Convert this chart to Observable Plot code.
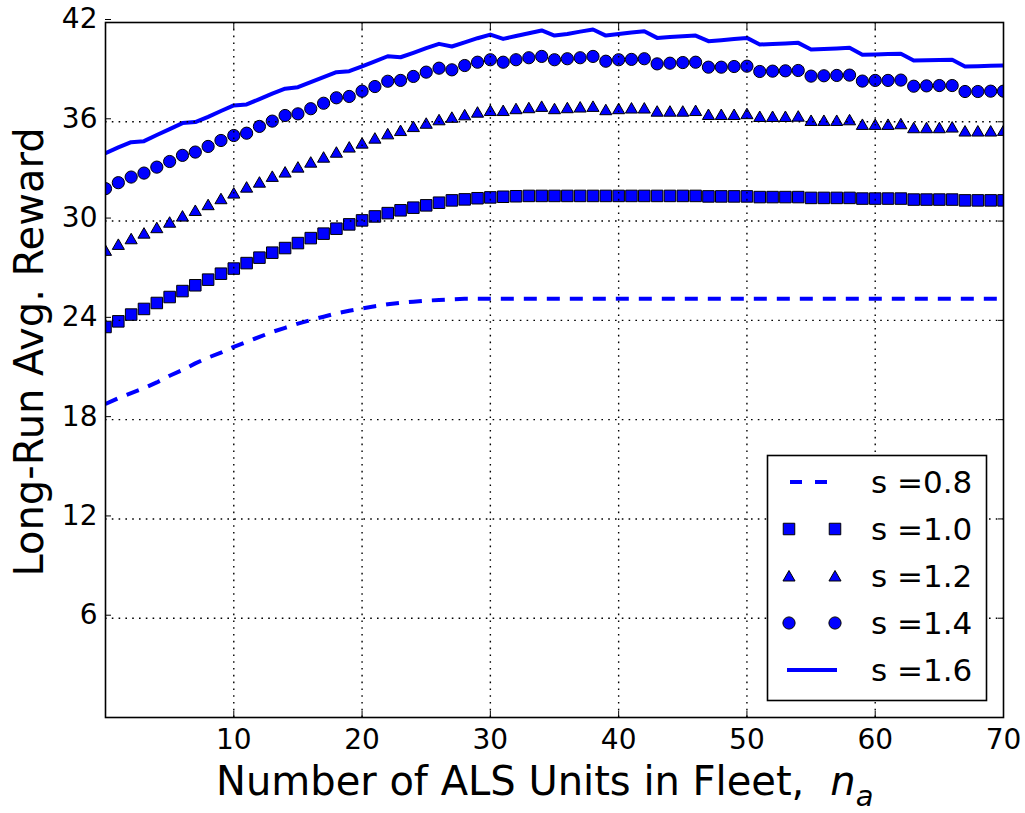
<!DOCTYPE html>
<html>
<head>
<meta charset="utf-8">
<script src="https://cdn.jsdelivr.net/npm/d3@7"></script>
<script src="https://cdn.jsdelivr.net/npm/@observablehq/plot@0.6"></script>
<style>
  body { margin: 0; background: #fff; }
  #wrap { position: relative; width: 1025px; height: 813px; }
</style>
</head>
<body>
<div id="wrap"></div>
<script>
// ---- data ----
const nA = [0,1,2,3,4,5,6,7,8,9,10,11,12,13,14,15,16,17,18,19,20,21,22,23,24,25,26,27,28,29,30,31,32,33,34,35,36,37,38,39,40,41,42,43,44,45,46,47,48,49,50,51,52,53,54,55,56,57,58,59,60,61,62,63,64,65,66,67,68,69,70];

const s08 = [18.95,19.3,19.6,19.9,20.25,20.65,21.0,21.4,21.75,22.05,22.4,22.7,23.0,23.3,23.55,23.8,24.02,24.22,24.42,24.58,24.72,24.85,24.97,25.06,25.13,25.19,25.23,25.27,25.3,25.3,25.3,25.3,25.3,25.3,25.3,25.3,25.3,25.3,25.3,25.3,25.3,25.3,25.3,25.3,25.3,25.3,25.3,25.3,25.3,25.3,25.3,25.3,25.3,25.3,25.3,25.3,25.3,25.3,25.3,25.3,25.3,25.3,25.3,25.3,25.3,25.3,25.3,25.3,25.3,25.3,25.3];

const s10 = [23.6,23.94,24.35,24.69,25.05,25.41,25.77,26.12,26.46,26.82,27.13,27.46,27.79,28.09,28.37,28.67,28.97,29.24,29.54,29.8,30.04,30.28,30.48,30.65,30.81,30.95,31.11,31.25,31.31,31.38,31.43,31.47,31.5,31.52,31.52,31.52,31.52,31.52,31.52,31.52,31.52,31.52,31.52,31.52,31.52,31.52,31.52,31.49,31.49,31.49,31.49,31.45,31.45,31.45,31.45,31.4,31.4,31.4,31.4,31.36,31.36,31.36,31.36,31.3,31.3,31.3,31.3,31.25,31.25,31.25,31.25];

const s12 = [28.23,28.59,28.93,29.27,29.6,29.93,30.3,30.64,30.99,31.35,31.69,32.05,32.35,32.7,32.96,33.26,33.56,33.86,34.16,34.47,34.71,35.01,35.27,35.47,35.71,35.91,36.12,36.27,36.42,36.58,36.68,36.68,36.79,36.85,36.93,36.79,36.85,36.89,36.93,36.73,36.79,36.83,36.83,36.64,36.64,36.64,36.68,36.44,36.44,36.44,36.49,36.32,36.32,36.32,36.34,36.08,36.08,36.08,36.12,35.84,35.84,35.84,35.88,35.64,35.64,35.64,35.68,35.44,35.44,35.44,35.48];

const s14 = [31.96,32.32,32.66,32.9,33.26,33.6,33.97,34.17,34.51,34.87,35.17,35.31,35.72,36.04,36.38,36.48,36.79,37.12,37.45,37.53,37.85,38.13,38.45,38.5,38.74,39.0,39.24,39.14,39.4,39.6,39.75,39.6,39.75,39.87,39.95,39.75,39.81,39.87,39.95,39.66,39.75,39.77,39.81,39.5,39.54,39.58,39.6,39.3,39.3,39.34,39.36,39.04,39.06,39.08,39.1,38.76,38.78,38.8,38.82,38.46,38.5,38.5,38.52,38.15,38.17,38.19,38.19,37.83,37.83,37.85,37.85];

const s16 = [34.1,34.45,34.77,34.83,35.2,35.56,35.92,35.98,36.3,36.65,36.99,37.05,37.37,37.7,38.0,38.09,38.4,38.7,39.0,39.06,39.35,39.65,39.96,39.9,40.17,40.45,40.71,40.55,40.8,41.05,41.27,41.01,41.18,41.35,41.52,41.21,41.3,41.45,41.58,41.21,41.3,41.4,41.47,41.07,41.12,41.17,41.21,40.87,40.93,41.0,41.07,40.67,40.7,40.73,40.77,40.37,40.4,40.43,40.47,40.05,40.07,40.09,40.11,39.7,39.72,39.73,39.75,39.34,39.36,39.38,39.4];

const xTicks = [10,20,30,40,50,60,70];
const yTicks = [6,12,18,24,30,36,42];
const xGridTicks = [10,20,30,40,50,60];
const yGridTicks = [6,12,18,24,30,36];
const legendLabels = ["s =0.8","s =1.0","s =1.2","s =1.4","s =1.6"];
const xLabel = "Number of ALS Units in Fleet,";
const yLabel = "Long-Run Avg. Reward";

// ---- build ----
const rows = nA.map((n, i) => ({n, s08: s08[i], s10: s10[i], s12: s12[i], s14: s14[i], s16: s16[i]}));
const BLUE = "#0000ff";
const FONT = "DejaVu Sans, sans-serif";
const R_SQ = 6.5, R_TRI = 4.5, R_CIR = 6.1;

const gridStyle = {stroke: "black", strokeOpacity: 1, strokeWidth: 1.4, strokeDasharray: "1.6,5.2"};

const chart = Plot.plot({
  width: 1025,
  height: 813,
  marginLeft: 105,
  marginRight: 22,
  marginTop: 22,
  marginBottom: 96,
  x: {domain: [0, 70]},
  y: {domain: [0, 42]},
  style: {fontFamily: FONT, fontSize: "28px", color: "black", background: "white", overflow: "visible"},
  marks: [
    Plot.line(rows, {x: "n", y: "s08", stroke: BLUE, strokeWidth: 4, strokeDasharray: "13,10", strokeLinecap: "butt", clip: true}),
    Plot.dot(rows, {x: "n", y: "s10", symbol: "square", r: R_SQ, fill: BLUE, stroke: "black", strokeWidth: 1, clip: true}),
    Plot.dot(rows, {x: "n", y: "s12", symbol: "triangle", r: R_TRI, fill: BLUE, stroke: "black", strokeWidth: 1, dy: 1.5, clip: true}),
    Plot.dot(rows, {x: "n", y: "s14", symbol: "circle", r: R_CIR, fill: BLUE, stroke: "black", strokeWidth: 1, clip: true}),
    Plot.line(rows, {x: "n", y: "s16", stroke: BLUE, strokeWidth: 4, strokeLinejoin: "round", clip: true}),
    Plot.gridX(xGridTicks, gridStyle),
    Plot.gridY(yGridTicks, gridStyle),
    Plot.axisX({anchor: "bottom", ticks: xTicks, tickSize: -6, tickPadding: 18, fontSize: 28, label: null}),
    Plot.axisX({anchor: "top", ticks: xTicks, tickSize: -6, tickFormat: () => "", label: null}),
    Plot.axisY({anchor: "left", ticks: yTicks, tickSize: -6, tickPadding: 14, fontSize: 28, dy: -3, label: null}),
    Plot.axisY({anchor: "right", ticks: yTicks, tickSize: -6, tickFormat: () => "", label: null}),
    Plot.frame({stroke: "black", strokeWidth: 1.6})
  ]
});

document.getElementById("wrap").appendChild(chart);

const svg = d3.select(chart);

// y label
svg.append("text")
  .attr("transform", "translate(43,352) rotate(-90)")
  .attr("text-anchor", "middle")
  .attr("font-family", FONT)
  .attr("font-size", 40)
  .attr("fill", "black")
  .text(yLabel);

// x label with italic n_a
const xl = svg.append("text")
  .attr("x", 216)
  .attr("y", 795)
  .attr("text-anchor", "start")
  .attr("font-family", FONT)
  .attr("font-size", 40)
  .attr("fill", "black");
xl.append("tspan").text(xLabel);
xl.append("tspan").attr("dx", 26).attr("font-style", "italic").text("n");
xl.append("tspan").attr("dy", 11).attr("font-style", "italic").attr("font-size", 29).text("a");

// legend
const lg = svg.append("g");
lg.append("rect")
  .attr("x", 767.5).attr("y", 455.5).attr("width", 219).attr("height", 245)
  .attr("fill", "white").attr("stroke", "black").attr("stroke-width", 1.6);
const rowY = [482, 529, 576, 623, 670];
const symSize = r => Math.PI * r * r;
legendLabels.forEach((lab, i) => {
  const y = rowY[i];
  if (i === 0) {
    lg.append("line").attr("x1", 790).attr("x2", 827).attr("y1", y).attr("y2", y)
      .attr("stroke", BLUE).attr("stroke-width", 4).attr("stroke-dasharray", "12,13");
  } else if (i === 4) {
    lg.append("line").attr("x1", 787).attr("x2", 837).attr("y1", y).attr("y2", y)
      .attr("stroke", BLUE).attr("stroke-width", 4);
  } else {
    const type = i === 1 ? d3.symbolSquare : i === 2 ? d3.symbolTriangle : d3.symbolCircle;
    const r = i === 1 ? R_SQ : i === 2 ? R_TRI : R_CIR;
    const path = d3.symbol(type, symSize(r))();
    [789, 835].forEach(x => {
      lg.append("path").attr("d", path)
        .attr("transform", `translate(${x},${y + (i === 2 ? 1.5 : 0)})`)
        .attr("fill", BLUE).attr("stroke", "black").attr("stroke-width", 1);
    });
  }
  lg.append("text")
    .attr("x", 871).attr("y", y + 11)
    .attr("text-anchor", "start")
    .attr("font-family", FONT).attr("font-size", 31).attr("fill", "black")
    .text(lab);
});
</script>
</body>
</html>
